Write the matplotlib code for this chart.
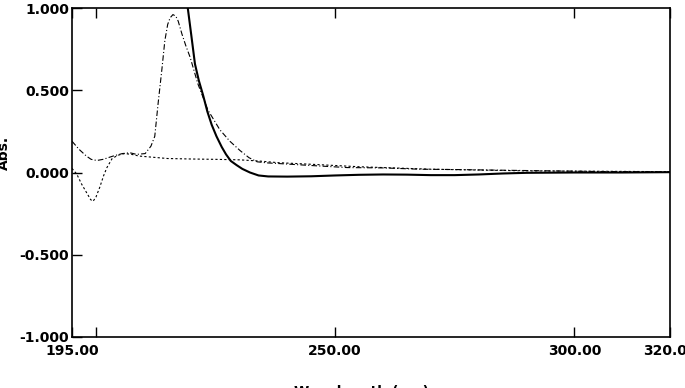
import matplotlib
matplotlib.use("Agg")
import matplotlib.pyplot as plt

# -----------------------------
# DADOS
# -----------------------------

# espectro principal (linha cheia)
x_solid = [218.5, 219.2, 220.0, 220.7, 221.5, 222.4, 223.3, 224.2, 225.2, 226.3,
           227.2, 228.2, 229.4, 230.6, 232.2, 234.0, 236.0, 240.0, 245.0, 250.0,
           255.0, 260.0, 265.0, 270.0, 275.0, 280.0, 285.0, 290.0, 300.0, 310.0, 320.0]
y_solid = [1.15, 1.0, 0.82, 0.66, 0.56, 0.47, 0.37, 0.29, 0.22, 0.155,
           0.11, 0.07, 0.045, 0.022, 0.0, -0.018, -0.024, -0.025, -0.023, -0.018,
           -0.014, -0.012, -0.013, -0.016, -0.016, -0.012, -0.006, -0.002, 0.0, 0.0, 0.002]

# traço-ponto
x_dashdot = [195.0, 196.5, 198.0, 199.0, 200.2, 201.5, 203.6, 205.5, 207.1, 208.5,
             210.3, 211.5, 212.3, 213.0, 213.8, 214.4, 215.0, 215.5, 216.1, 216.7,
             217.2, 217.7, 218.0, 218.8, 219.7, 221.3, 223.4, 225.9, 228.0, 230.1,
             232.0, 233.7, 236.0, 237.9, 244.7, 252.5, 260.0, 267.7, 275.0, 284.5,
             295.0, 305.0, 320.0]
y_dashdot = [0.19, 0.14, 0.10, 0.08, 0.073, 0.08, 0.10, 0.115, 0.12, 0.11,
             0.115, 0.16, 0.22, 0.42, 0.63, 0.80, 0.90, 0.94, 0.96, 0.95,
             0.92, 0.87, 0.84, 0.77, 0.70, 0.54, 0.38, 0.26, 0.19, 0.134,
             0.09, 0.065, 0.058, 0.055, 0.043, 0.03, 0.028, 0.02, 0.018, 0.014,
             0.01, 0.006, 0.004]

# pontilhado
x_dotted = [195.0, 196.0, 197.0, 198.2, 198.9, 199.4, 200.0, 200.8, 201.6, 202.3,
            203.4, 204.6, 206.0, 207.5, 209.0, 211.0, 215.0, 220.0, 225.0, 230.0,
            234.0, 238.0, 245.0, 255.0, 270.0, 290.0, 320.0]
y_dotted = [0.025, -0.01, -0.07, -0.13, -0.165, -0.175, -0.15, -0.09, -0.02, 0.03,
            0.085, 0.105, 0.115, 0.11, 0.10, 0.095, 0.085, 0.082, 0.08, 0.077,
            0.07, 0.06, 0.05, 0.035, 0.02, 0.01, 0.005]

x_ticks = [195, 200, 250, 300, 320]
x_ticklabels = ["195.00", "", "250.00", "300.00", "320.00"]
y_ticks = [-1.0, -0.5, 0.0, 0.5, 1.0]
y_ticklabels = ["-1.000", "-0.500", "0.000", "0.500", "1.000"]

# -----------------------------
# GRÁFICO
# -----------------------------

plt.rcParams["font.family"] = "DejaVu Sans"
plt.rcParams["font.weight"] = "bold"

fig = plt.figure(figsize=(6.85, 3.88), dpi=100)
ax = fig.add_axes([72/685, 1 - 337/388, (670 - 72)/685, (337 - 8)/388])

ax.plot(x_solid, y_solid, color="black", lw=1.5)
ax.plot(x_dashdot, y_dashdot, color="black", lw=0.8, linestyle=(0, (5, 2, 1, 2)))
ax.plot(x_dotted, y_dotted, color="black", lw=0.8, linestyle=(0, (2, 2)))

ax.set_xlim(195, 320)
ax.set_ylim(-1, 1)

ax.set_xticks(x_ticks)
ax.set_xticklabels(x_ticklabels, fontsize=10, fontweight="bold")
ax.set_yticks(y_ticks)
ax.set_yticklabels(y_ticklabels, fontsize=10, fontweight="bold")

ax.tick_params(axis="x", direction="in", length=7, width=1, top=True, pad=5)
ax.tick_params(axis="y", direction="in", length=7, width=1, pad=2)

for s in ax.spines.values():
    s.set_linewidth(1.2)

fig.text(4/685, 1 - 153/388, "Abs.", rotation=90, ha="center", va="center",
         fontsize=10, fontweight="bold")
fig.text(362/685, 1 - 385/388, "Wavelength (nm)", ha="center", va="top",
         fontsize=10, fontweight="bold")

fig.savefig("out.png", dpi=100)
